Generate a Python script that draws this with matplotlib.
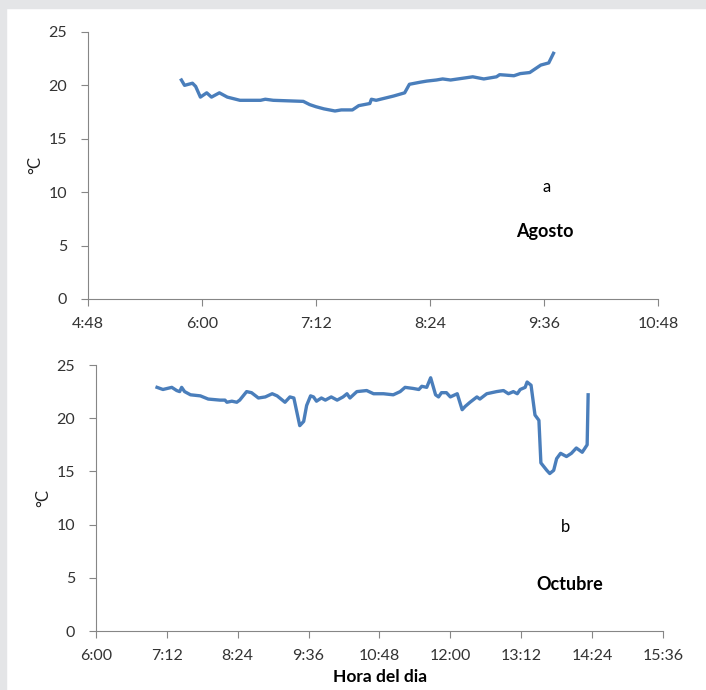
import matplotlib.pyplot as plt
from matplotlib.patches import Rectangle
from matplotlib.ticker import FuncFormatter, MultipleLocator

plt.rcParams['font.family'] = ['Lato', 'DejaVu Sans']

# Agosto (a)
t_ago = ["5:47", "5:49", "5:54", "5:56", "5:59", "6:03", "6:06", "6:11", "6:16", "6:24",
         "6:37", "6:40", "6:45", "7:04", "7:08", "7:12", "7:17", "7:24", "7:28", "7:35",
         "7:39", "7:46", "7:47", "7:50", "8:01", "8:08", "8:11", "8:18", "8:22", "8:28",
         "8:32", "8:37", "8:51", "8:58", "9:06", "9:08", "9:17", "9:21", "9:27", "9:34",
         "9:39", "9:42"]
v_ago = [20.5, 20.0, 20.2, 19.9, 18.9, 19.3, 18.9, 19.3, 18.9, 18.6,
         18.6, 18.7, 18.6, 18.5, 18.2, 18.0, 17.8, 17.6, 17.7, 17.7,
         18.1, 18.3, 18.7, 18.6, 19.0, 19.3, 20.1, 20.3, 20.4, 20.5,
         20.6, 20.5, 20.8, 20.6, 20.8, 21.0, 20.9, 21.1, 21.2, 21.9,
         22.1, 23.0]

# Octubre (b)
t_oct = ["7:02", "7:08", "7:17", "7:22", "7:25", "7:27", "7:30", "7:36", "7:46", "7:54",
         "8:06", "8:11", "8:13", "8:18", "8:23", "8:26", "8:33", "8:38", "8:45", "8:52",
         "8:59", "9:04", "9:12", "9:17", "9:21", "9:24", "9:27", "9:31", "9:34", "9:38",
         "9:41", "9:44", "9:49", "9:53", "9:59", "10:05", "10:11", "10:15", "10:18", "10:25",
         "10:35", "10:42", "10:52", "11:02", "11:09", "11:14", "11:22", "11:28", "11:31", "11:36",
         "11:40", "11:45", "11:48", "11:51", "11:56", "12:00", "12:07", "12:12", "12:15", "12:20",
         "12:27", "12:30", "12:37", "12:47", "12:54", "12:59", "13:04", "13:08", "13:11", "13:16",
         "13:18", "13:22", "13:26", "13:30", "13:32", "13:38", "13:41", "13:45", "13:48", "13:52",
         "13:58", "14:03", "14:08", "14:14", "14:19", "14:20"]
v_oct = [22.9, 22.7, 22.9, 22.6, 22.5, 22.9, 22.5, 22.2, 22.1, 21.8,
         21.7, 21.7, 21.5, 21.6, 21.5, 21.7, 22.5, 22.4, 21.9, 22.0,
         22.3, 22.1, 21.5, 22.0, 21.9, 20.6, 19.3, 19.7, 21.2, 22.1,
         22.0, 21.6, 21.9, 21.7, 22.0, 21.7, 22.0, 22.3, 21.9, 22.5,
         22.6, 22.3, 22.3, 22.2, 22.5, 22.9, 22.8, 22.7, 23.0, 22.9,
         23.8, 22.2, 22.0, 22.4, 22.4, 22.0, 22.3, 20.8, 21.1, 21.5,
         22.0, 21.8, 22.3, 22.5, 22.6, 22.3, 22.5, 22.3, 22.7, 22.9,
         23.4, 23.1, 20.3, 19.8, 15.8, 15.1, 14.8, 15.1, 16.2, 16.7,
         16.4, 16.7, 17.2, 16.8, 17.5, 22.2]


def to_day(s):
    h, m = s.split(":")
    return int(h) / 24 + int(m) / 1440


def fmt(x, pos):
    mins = int(round(x * 1440))
    return "%d:%02d" % (mins // 60, mins % 60)


fig = plt.figure(figsize=(7.06, 6.9), dpi=100)
fig.patches.append(Rectangle((0, 0), 0.0085, 1, transform=fig.transFigure, color="#e4e5e7", zorder=0))
fig.patches.append(Rectangle((0, 0.988), 1, 0.012, transform=fig.transFigure, color="#e4e5e7", zorder=0))

ax1 = fig.add_axes([0.1246, 0.5667, 0.8074, 0.387])
ax2 = fig.add_axes([0.136, 0.0855, 0.803, 0.3855])

line_col = "#4a7ebb"
ax1.plot([to_day(t) for t in t_ago], v_ago, color=line_col, lw=2.4)
ax2.plot([to_day(t) for t in t_oct], v_oct, color=line_col, lw=2.4)

ax1.set_xlim(0.2, 0.45)
ax2.set_xlim(0.25, 0.65)

for ax in (ax1, ax2):
    ax.set_ylim(0, 25)
    ax.yaxis.set_major_locator(MultipleLocator(5))
    ax.xaxis.set_major_locator(MultipleLocator(0.05))
    ax.xaxis.set_major_formatter(FuncFormatter(fmt))
    ax.spines["top"].set_visible(False)
    ax.spines["right"].set_visible(False)
    ax.spines["left"].set_color("#868686")
    ax.spines["bottom"].set_color("#868686")
    ax.tick_params(colors="#868686", labelcolor="#333333", labelsize=11.5, length=5)
    ax.tick_params(axis="y", pad=10)
    ax.tick_params(axis="x", pad=8)
    ax.set_ylabel("°C", fontsize=12, color="#222222", labelpad=4)

fig.text(547 / 706, 1 - 187 / 690, "a", fontsize=12, ha="center", va="center")
fig.text(545 / 706, 1 - 232 / 690, "Agosto", fontsize=13, fontweight="bold", ha="center", va="center")
fig.text(566 / 706, 1 - 527 / 690, "b", fontsize=12, ha="center", va="center")
fig.text(570 / 706, 1 - 585 / 690, "Octubre", fontsize=13, fontweight="bold", ha="center", va="center")
fig.text(380 / 706, 1 - 677 / 690, "Hora del dia", fontsize=12.5, fontweight="bold", ha="center", va="center")

fig.savefig("out.png", dpi=100)
